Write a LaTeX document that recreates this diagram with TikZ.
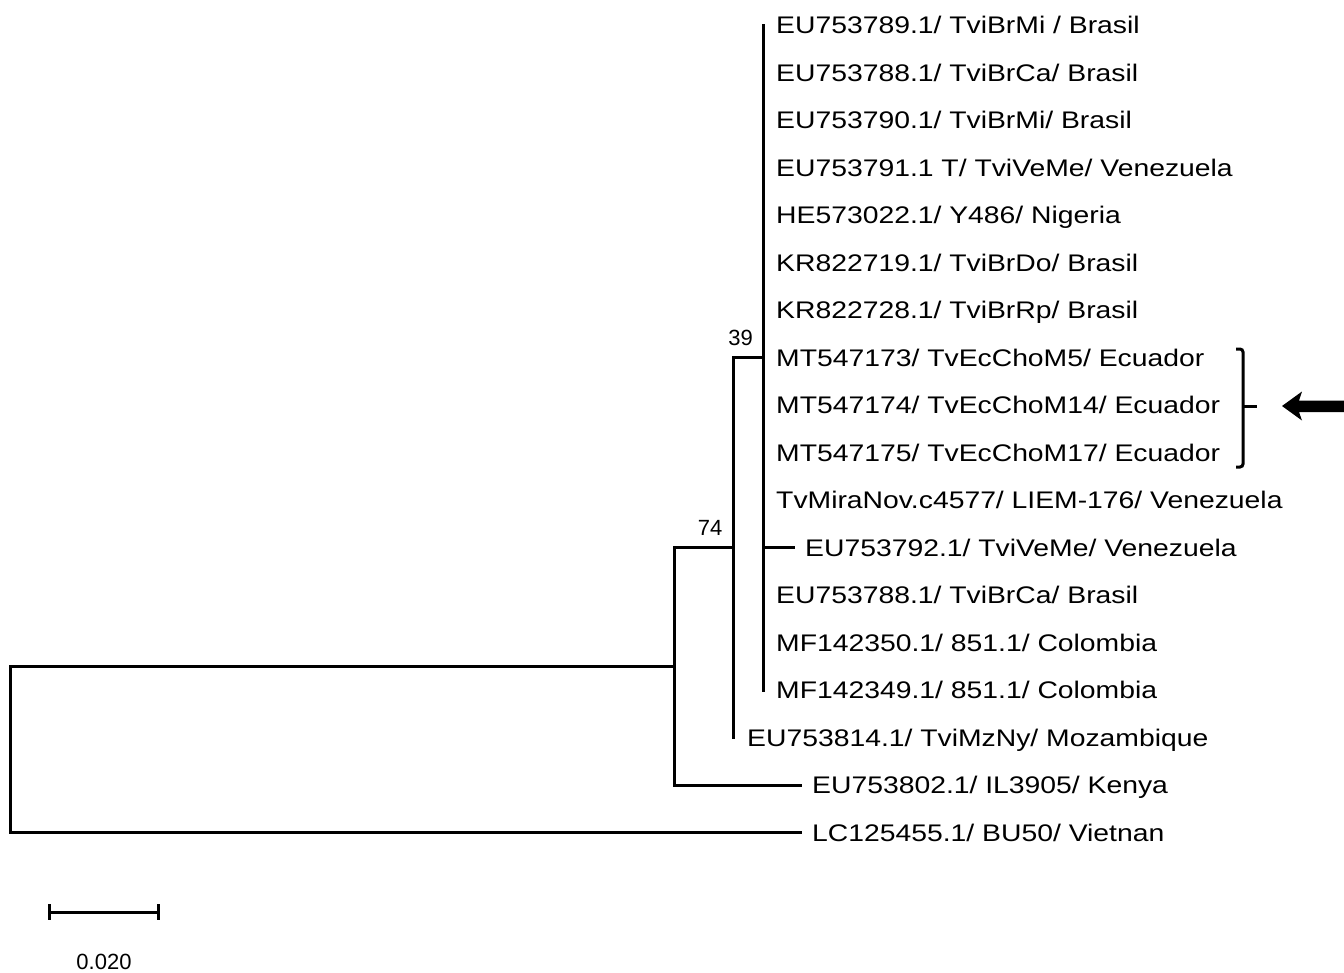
\documentclass[tikz,border=0pt]{standalone}
\usepackage{fontspec}
\setmainfont{Liberation Sans}
\newfontfamily\labfont[FakeStretch=1.18]{Liberation Sans}
\begin{document}
\begin{tikzpicture}[x=1pt,y=-1pt,
  branch/.style={line width=3pt, line cap=rect},
  leaf/.style={anchor=base west, inner sep=0pt, font=\labfont\fontsize{24}{28}\selectfont},
  boot/.style={inner sep=0pt, font=\fontsize{22}{26}\selectfont},
  scalelab/.style={inner sep=0pt, anchor=base, font=\fontsize{22}{26}\selectfont}]
\useasboundingbox[fill=white] (0,0) rectangle (1344,972);
% internal nodes
\coordinate (R) at (10,666);
\coordinate (A) at (674,666);
\coordinate (B) at (733,547.5);
\coordinate (C) at (763,357.5);
% tips
\foreach \i in {0,...,10,12,13,14} {\coordinate (t\i) at (763,25+47.5*\i);}
\coordinate (t11) at (793,25+47.5*11);
\coordinate (t15) at (733,737.5);
\coordinate (t16) at (800,785);
\coordinate (t17) at (800,832.5);
% branches
\draw[branch] (A) -| (R) |- (t17);
\draw[branch] (B) -| (A) |- (t16);
\draw[branch] (C) -| (B) |- (t15);
\draw[branch] (t0) -- (t14);
\draw[branch] (C |- t11) -- (t11);
% labels
\node[leaf] (L0) at ([xshift=13pt,yshift=-8.5pt]t0) {EU753789.1/ TviBrMi / Brasil};
\node[leaf] (L1) at ([xshift=13pt,yshift=-8.5pt]t1) {EU753788.1/ TviBrCa/ Brasil};
\node[leaf] (L2) at ([xshift=13pt,yshift=-8.5pt]t2) {EU753790.1/ TviBrMi/ Brasil};
\node[leaf] (L3) at ([xshift=13pt,yshift=-8.5pt]t3) {EU753791.1 T/ TviVeMe/ Venezuela};
\node[leaf] (L4) at ([xshift=13pt,yshift=-8.5pt]t4) {HE573022.1/ Y486/ Nigeria};
\node[leaf] (L5) at ([xshift=13pt,yshift=-8.5pt]t5) {KR822719.1/ TviBrDo/ Brasil};
\node[leaf] (L6) at ([xshift=13pt,yshift=-8.5pt]t6) {KR822728.1/ TviBrRp/ Brasil};
\node[leaf] (L7) at ([xshift=13pt,yshift=-8.5pt]t7) {MT547173/ TvEcChoM5/ Ecuador};
\node[leaf] (L8) at ([xshift=13pt,yshift=-8.5pt]t8) {MT547174/ TvEcChoM14/ Ecuador};
\node[leaf] (L9) at ([xshift=13pt,yshift=-8.5pt]t9) {MT547175/ TvEcChoM17/ Ecuador};
\node[leaf] (L10) at ([xshift=13pt,yshift=-8.5pt]t10) {TvMiraNov.c4577/ LIEM-176/ Venezuela};
\node[leaf] (L11) at ([xshift=12pt,yshift=-8.5pt]t11) {EU753792.1/ TviVeMe/ Venezuela};
\node[leaf] (L12) at ([xshift=13pt,yshift=-8.5pt]t12) {EU753788.1/ TviBrCa/ Brasil};
\node[leaf] (L13) at ([xshift=13pt,yshift=-8.5pt]t13) {MF142350.1/ 851.1/ Colombia};
\node[leaf] (L14) at ([xshift=13pt,yshift=-8.5pt]t14) {MF142349.1/ 851.1/ Colombia};
\node[leaf] (L15) at ([xshift=14pt,yshift=-8.5pt]t15) {EU753814.1/ TviMzNy/ Mozambique};
\node[leaf] (L16) at ([xshift=12pt,yshift=-8.5pt]t16) {EU753802.1/ IL3905/ Kenya};
\node[leaf] (L17) at ([xshift=12pt,yshift=-8.5pt]t17) {LC125455.1/ BU50/ Vietnan};
% bootstrap values
\node[boot, anchor=base east] (b39) at (753,345) {39};
\node[boot, anchor=base] (b74) at (710,535) {74};
% bracket
\draw[line width=3pt, rounded corners=3pt] (1236,349) -- (1243,349) -- (1243,467) -- (1236,467);
\draw[line width=3pt] (1243,406) -- (1257,406);
% arrow
\fill (1282,406) -- (1302,391.5) -- (1299,400.5) -- (1344,400.5) -- (1344,412) -- (1299,412) -- (1302,420.5) -- cycle;
% scale bar
\coordinate (s1) at (49,912);
\coordinate (s2) at (158,912);
\draw[line width=3pt] (s1) -- (s2);
\draw[line width=3pt] ([yshift=8pt]s1) -- ([yshift=-8pt]s1);
\draw[line width=3pt] ([yshift=8pt]s2) -- ([yshift=-8pt]s2);
\node[scalelab] (slab) at (104,969) {0.020};
\end{tikzpicture}
\end{document}
